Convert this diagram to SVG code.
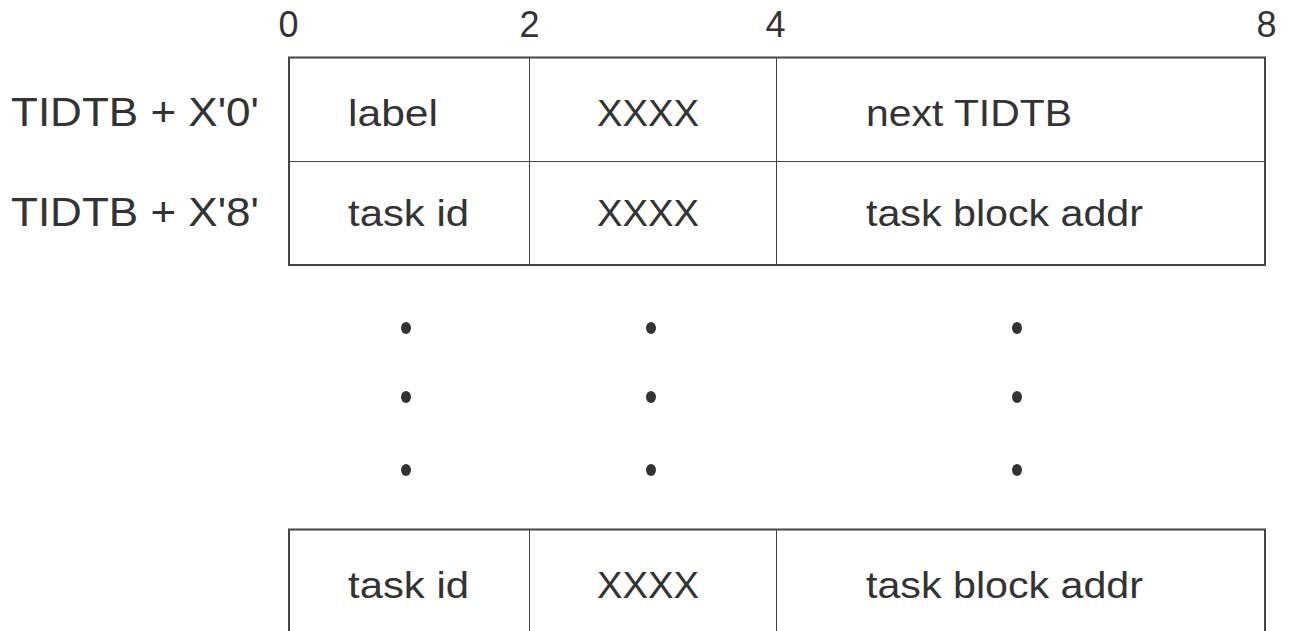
<svg xmlns="http://www.w3.org/2000/svg" width="1290" height="631" viewBox="0 0 1290 631">
  <style>
    text { font-family: "Liberation Sans", Arial, sans-serif; fill: #333; }
    .scale { font-size: 36px; text-anchor: middle; }
    .off { font-size: 40px; }
    .cell { font-size: 37px; }
    .outer { fill: none; stroke: #444; stroke-width: 2; }
    .inner { fill: none; stroke: #444; stroke-width: 1; }
    .dot { fill: #333; }
  </style>
  <rect width="1290" height="631" fill="#fff"/>

  <g id="scale">
    <text class="scale" x="288.5" y="37">0</text>
    <text class="scale" x="529.5" y="37">2</text>
    <text class="scale" x="775.5" y="37">4</text>
    <text class="scale" x="1266.5" y="37">8</text>
  </g>

  <g id="offsets">
    <text class="off" x="11" y="126" textLength="248" lengthAdjust="spacingAndGlyphs">TIDTB + X'0'</text>
    <text class="off" x="11" y="226" textLength="248" lengthAdjust="spacingAndGlyphs">TIDTB + X'8'</text>
  </g>

  <g id="block-top">
    <rect class="outer" x="289" y="57.5" width="976" height="207.5"/>
    <line class="inner" x1="289" y1="161.5" x2="1265" y2="161.5"/>
    <line class="inner" x1="529.5" y1="57.5" x2="529.5" y2="265"/>
    <line class="inner" x1="776.5" y1="57.5" x2="776.5" y2="265"/>
  </g>

  <g id="row-0">
    <text class="cell" x="348" y="126" textLength="90" lengthAdjust="spacingAndGlyphs">label</text>
    <text class="cell" x="597" y="126" textLength="102" lengthAdjust="spacingAndGlyphs">XXXX</text>
    <text class="cell" x="866" y="126" textLength="206" lengthAdjust="spacingAndGlyphs">next TIDTB</text>
  </g>

  <g id="row-8">
    <text class="cell" x="348" y="226" textLength="121" lengthAdjust="spacingAndGlyphs">task id</text>
    <text class="cell" x="597" y="226" textLength="102" lengthAdjust="spacingAndGlyphs">XXXX</text>
    <text class="cell" x="866" y="226" textLength="277" lengthAdjust="spacingAndGlyphs">task block addr</text>
  </g>

  <g id="ellipsis">
    <ellipse class="dot" cx="406" cy="328" rx="5" ry="6"/>
    <ellipse class="dot" cx="651" cy="328" rx="5" ry="6"/>
    <ellipse class="dot" cx="1017" cy="328" rx="5" ry="6"/>
    <ellipse class="dot" cx="406" cy="397" rx="5" ry="6"/>
    <ellipse class="dot" cx="651" cy="397" rx="5" ry="6"/>
    <ellipse class="dot" cx="1017" cy="397" rx="5" ry="6"/>
    <ellipse class="dot" cx="406" cy="470" rx="5" ry="6"/>
    <ellipse class="dot" cx="651" cy="470" rx="5" ry="6"/>
    <ellipse class="dot" cx="1017" cy="470" rx="5" ry="6"/>
  </g>

  <g id="block-last">
    <path class="outer" d="M289 640 V529.5 H1265 V640"/>
    <line class="inner" x1="529.5" y1="529.5" x2="529.5" y2="640"/>
    <line class="inner" x1="776.5" y1="529.5" x2="776.5" y2="640"/>
    <text class="cell" x="348" y="598" textLength="121" lengthAdjust="spacingAndGlyphs">task id</text>
    <text class="cell" x="597" y="598" textLength="102" lengthAdjust="spacingAndGlyphs">XXXX</text>
    <text class="cell" x="866" y="598" textLength="277" lengthAdjust="spacingAndGlyphs">task block addr</text>
  </g>

  <g id="connectors"></g>
</svg>
